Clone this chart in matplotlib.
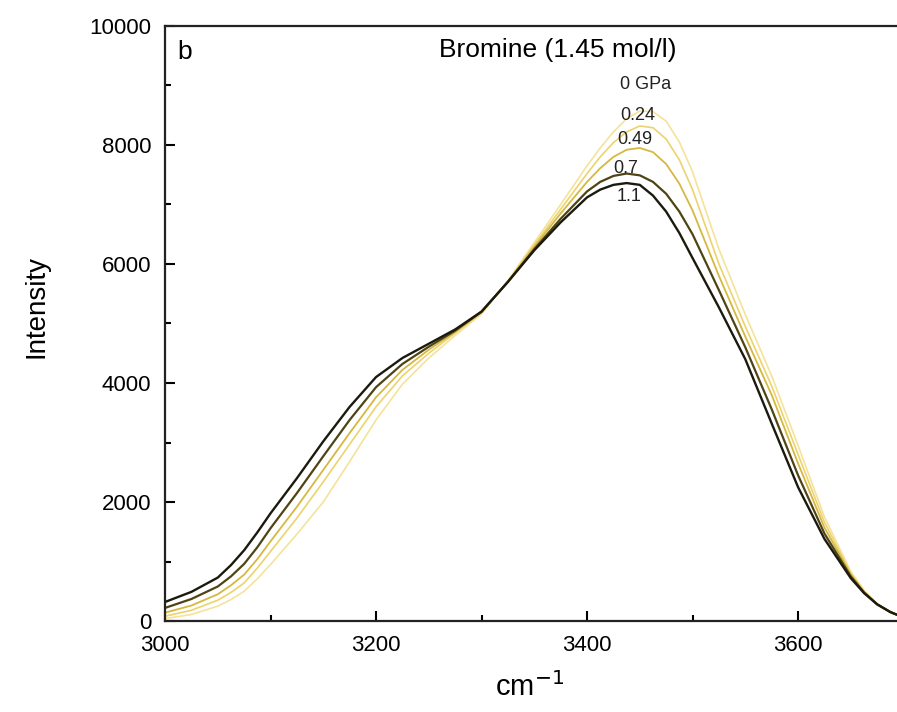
import numpy as np
import matplotlib.pyplot as plt
from matplotlib.ticker import MultipleLocator

# Datos (espectros Raman, bromo 1.45 mol/l)
wavenumber = [3000, 3025, 3050, 3062.5, 3075, 3087.5, 3100, 3125, 3150, 3175,
              3200, 3225, 3250, 3275, 3300, 3325, 3350, 3375, 3400, 3412.5,
              3425, 3437.5, 3450, 3462.5, 3475, 3487.5, 3500, 3525, 3550, 3575,
              3600, 3625, 3650, 3662.5, 3675, 3687.5, 3700]

i_0gpa = [40, 110, 250, 360, 500, 710, 950, 1460, 2000, 2680,
          3380, 3980, 4420, 4800, 5160, 5720, 6360, 7000, 7650, 7950,
          8220, 8440, 8570, 8560, 8400, 8050, 7550, 6250, 5150, 4120,
          2950, 1750, 830, 520, 290, 160, 60]
i_024 = [80, 180, 350, 480, 640, 890, 1170, 1730, 2340, 2970,
         3600, 4120, 4500, 4840, 5180, 5710, 6320, 6920, 7520, 7800,
         8040, 8220, 8320, 8290, 8100, 7750, 7250, 6000, 4950, 3950,
         2800, 1660, 800, 500, 285, 155, 60]
i_049 = [140, 260, 450, 600, 780, 1040, 1340, 1920, 2540, 3160,
         3760, 4220, 4560, 4860, 5190, 5700, 6290, 6850, 7380, 7610,
         7800, 7920, 7950, 7880, 7680, 7350, 6900, 5800, 4780, 3800,
         2650, 1570, 780, 490, 280, 150, 60]
i_07 = [220, 370, 580, 750, 960, 1240, 1560, 2150, 2770, 3380,
        3930, 4320, 4610, 4880, 5200, 5700, 6250, 6760, 7220, 7380,
        7480, 7520, 7490, 7380, 7180, 6880, 6500, 5560, 4600, 3560,
        2450, 1470, 750, 480, 280, 150, 60]
i_11 = [320, 490, 730, 940, 1190, 1490, 1810, 2400, 3020, 3600,
        4100, 4420, 4660, 4900, 5200, 5700, 6230, 6700, 7120, 7250,
        7330, 7360, 7330, 7150, 6880, 6520, 6100, 5270, 4400, 3320,
        2250, 1380, 720, 470, 280, 150, 60]

series = [i_0gpa, i_024, i_049, i_07, i_11]
colores = ['#f4e39a', '#ecd36c', '#d6b840', '#4f4414', '#1c1a0e']
grosores = [1.2, 1.2, 1.3, 1.6, 1.7]

etiquetas = ['0 GPa', '0.24', '0.49', '0.7', '1.1']
etiq_x = [3431, 3431, 3429, 3425, 3428]
etiq_y = [9025, 8504, 8084, 7613, 7126]

plt.rcParams['font.family'] = ['Liberation Sans', 'DejaVu Sans']

fig = plt.figure(figsize=(8.97, 7.12), dpi=100)
ax = fig.add_axes([0.184, 0.1278, 0.8233, 0.8357])

for y, c, lw in zip(series, colores, grosores):
    ax.plot(wavenumber, y, color=c, lw=lw)

for t, x, y in zip(etiquetas, etiq_x, etiq_y):
    ax.text(x, y, t, fontsize=13, ha='left', va='center', color='#222222')

ax.text(3372, 9597, 'Bromine (1.45 mol/l)', fontsize=19, ha='center', va='center')
ax.text(3012, 9563, 'b', fontsize=19, ha='left', va='center')

ax.set_xlim(3000, 3700)
ax.set_ylim(0, 10000)
ax.xaxis.set_major_locator(MultipleLocator(200))
ax.xaxis.set_minor_locator(MultipleLocator(100))
ax.yaxis.set_major_locator(MultipleLocator(2000))
ax.yaxis.set_minor_locator(MultipleLocator(1000))
ax.tick_params(which='both', direction='in', top=False, right=False,
               width=1.5, labelsize=16)
ax.tick_params(which='major', length=7, pad=10)
ax.tick_params(which='minor', length=4)
for s in ax.spines.values():
    s.set_linewidth(1.6)
    s.set_color('#222222')

ax.set_xlabel('cm$^{-1}$', fontsize=21)
ax.xaxis.set_label_coords(0.494, -0.086)
ax.set_ylabel('Intensity', fontsize=20)
ax.yaxis.set_label_coords(-0.156, 0.528)

fig.savefig('out.png', dpi=100)
